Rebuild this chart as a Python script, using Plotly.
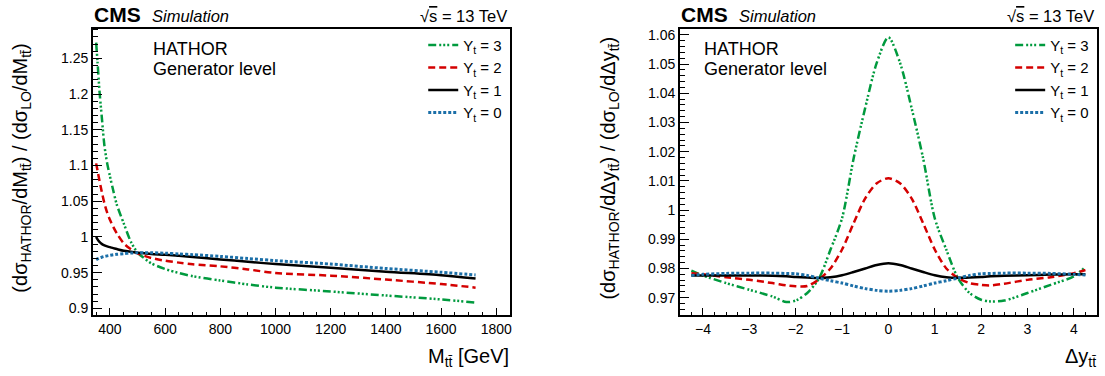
import plotly.graph_objects as go

W, H = 1105, 376

# ---------------- data: left panel (M_tt) ----------------
m_tt = [350, 355, 362, 370, 380, 390, 400, 412, 425, 450, 475, 500, 525, 550,
        600, 650, 700, 800, 900, 1000, 1200, 1400, 1600, 1725]
m_yt3 = [1.272, 1.245, 1.205, 1.170, 1.128, 1.103, 1.085, 1.065, 1.045, 1.019, 0.994, 0.978,
         0.970, 0.963, 0.955, 0.9495, 0.945, 0.939, 0.9335, 0.929, 0.9236, 0.918, 0.9125, 0.908]
m_yt2 = [1.103, 1.093, 1.079, 1.064, 1.047, 1.034, 1.024, 1.014, 1.005, 0.991, 0.983, 0.977,
         0.9735, 0.9705, 0.9667, 0.964, 0.9617, 0.9588, 0.9545, 0.9495, 0.9458, 0.9403, 0.934, 0.929]
m_yt1 = [1.000, 0.9965, 0.993, 0.9903, 0.9882, 0.9867, 0.9857, 0.9843, 0.983, 0.9806, 0.9792, 0.978,
         0.977, 0.976, 0.975, 0.9735, 0.972, 0.9685, 0.9652, 0.962, 0.9568, 0.9512, 0.9465, 0.9417]
m_yt0 = [0.968, 0.9692, 0.9705, 0.9716, 0.9727, 0.9735, 0.9742, 0.975, 0.9757, 0.9766, 0.9774, 0.9779,
         0.978, 0.978, 0.9772, 0.9762, 0.9752, 0.9727, 0.9698, 0.9668, 0.962, 0.9558, 0.9505, 0.9468]

# ---------------- data: right panel (Delta y_tt) ----------------
dy_tt = [-4.25, -4, -3.5, -3, -2.5, -2.2, -2, -1.75, -1.5, -1.25, -1, -0.75, -0.5, -0.25, 0,
         0.25, 0.5, 0.75, 1, 1.25, 1.5, 1.75, 2, 2.2, 2.5, 3, 3.5, 4, 4.25]
dy_yt3 = [0.9793, 0.9776, 0.975, 0.9727, 0.9704, 0.9685, 0.969, 0.9716, 0.9765, 0.9864, 0.9972,
          1.0177, 1.035, 1.0505, 1.0592, 1.0505, 1.035, 1.0177, 0.9972, 0.9864, 0.9767, 0.9716,
          0.9693, 0.9687, 0.969, 0.9716, 0.9744, 0.9773, 0.9805]
dy_yt2 = [0.9784, 0.978, 0.977, 0.9761, 0.975, 0.9742, 0.9739, 0.974, 0.9762, 0.980, 0.9865,
          0.9955, 1.004, 1.0092, 1.0109, 1.0092, 1.004, 0.9955, 0.9865, 0.980, 0.9768, 0.975,
          0.9744, 0.9742, 0.9748, 0.9761, 0.977, 0.9784, 0.9795]
dy_yt1 = [0.9776, 0.9776, 0.9776, 0.9776, 0.9775, 0.9773, 0.9771, 0.9769, 0.9767, 0.977, 0.9777,
          0.9788, 0.980, 0.9812, 0.9818, 0.9812, 0.980, 0.9788, 0.9777, 0.977, 0.9768, 0.9769,
          0.9771, 0.9773, 0.9775, 0.9777, 0.9779, 0.978, 0.978]
dy_yt0 = [0.9776, 0.978, 0.9783, 0.9784, 0.9784, 0.9783, 0.9782, 0.9776, 0.9767, 0.9758, 0.975,
          0.974, 0.9731, 0.9725, 0.9722, 0.9725, 0.9731, 0.974, 0.975, 0.9758, 0.9767, 0.9776,
          0.9782, 0.9783, 0.9784, 0.9784, 0.9783, 0.978, 0.9778]

series_names = ["Y<sub>t</sub> = 3", "Y<sub>t</sub> = 2", "Y<sub>t</sub> = 1", "Y<sub>t</sub> = 0"]

# tick labels
m_ticks = [400, 600, 800, 1000, 1200, 1400, 1600, 1800]
m_tick_text = ["400", "600", "800", "1000", "1200", "1400", "1600", "1800"]
m_yticks = [0.9, 0.95, 1.0, 1.05, 1.1, 1.15, 1.2, 1.25]
m_ytick_text = ["0.9", "0.95", "1", "1.05", "1.1", "1.15", "1.2", "1.25"]
dy_ticks = [-4, -3, -2, -1, 0, 1, 2, 3, 4]
dy_tick_text = ["\u22124", "\u22123", "\u22122", "\u22121", "0", "1", "2", "3", "4"]
dy_yticks = [0.97, 0.98, 0.99, 1.0, 1.01, 1.02, 1.03, 1.04, 1.05, 1.06]
dy_ytick_text = ["0.97", "0.98", "0.99", "1", "1.01", "1.02", "1.03", "1.04", "1.05", "1.06"]

# ---------------- styles ----------------
colors = ["#009a3e", "#d40000", "#000000", "#1b6fa8"]
dashes = ["8px,3px,2px,2px,2px,2px,2px,3px", "7px,4px", "solid", "3px,2px"]
widths = [2.5, 2.5, 2.5, 3]

FONT = "Liberation Sans, Arial, Helvetica, sans-serif"

fig = go.Figure()

for i, (ys, name) in enumerate(zip([m_yt3, m_yt2, m_yt1, m_yt0], series_names)):
    fig.add_trace(go.Scatter(x=m_tt, y=ys, name=name, mode="lines",
                             line=dict(color=colors[i], dash=dashes[i], width=widths[i],
                                       shape="spline", smoothing=0.8),
                             xaxis="x", yaxis="y", legend="legend"))
for i, (ys, name) in enumerate(zip([dy_yt3, dy_yt2, dy_yt1, dy_yt0], series_names)):
    fig.add_trace(go.Scatter(x=dy_tt, y=ys, name=name, mode="lines",
                             line=dict(color=colors[i], dash=dashes[i], width=widths[i],
                                       shape="spline", smoothing=0.8),
                             xaxis="x2", yaxis="y2", legend="legend2"))

def px_x(p):
    return p / W

def px_y(p):
    return 1 - p / H

ydom = [px_y(316), px_y(27)]
common_axis = dict(showgrid=False, zeroline=False, showline=True, mirror=True,
                   linecolor="black", linewidth=1.5, ticks="inside", tickcolor="black",
                   tickwidth=1, tickfont=dict(family=FONT, size=14, color="black"))

fig.update_layout(
    width=W, height=H,
    margin=dict(l=0, r=0, t=0, b=0),
    paper_bgcolor="white", plot_bgcolor="white",
    font=dict(family=FONT, color="black"),
    xaxis=dict(domain=[px_x(93), px_x(511)], range=[338, 1850], anchor="y",
               tickmode="array", tickvals=m_ticks, ticktext=m_tick_text, ticklen=8,
               minor=dict(tickmode="linear", tick0=0, dtick=50, ticklen=4, ticks="inside",
                          tickcolor="black"),
               **common_axis),
    yaxis=dict(domain=ydom, range=[0.89, 1.2915], anchor="x",
               tickmode="array", tickvals=m_yticks, ticktext=m_ytick_text, ticklen=9,
               minor=dict(tickmode="linear", tick0=0, dtick=0.01, ticklen=5, ticks="inside",
                          tickcolor="black"),
               **common_axis),
    xaxis2=dict(domain=[px_x(681), px_x(1099)], range=[-4.5, 4.5], anchor="y2",
                tickmode="array", tickvals=dy_ticks, ticktext=dy_tick_text, ticklen=8,
                minor=dict(tickmode="linear", tick0=0, dtick=0.25, ticklen=4, ticks="inside",
                           tickcolor="black"),
                **common_axis),
    yaxis2=dict(domain=ydom, range=[0.9639, 1.0621], anchor="x2",
                tickmode="array", tickvals=dy_yticks, ticktext=dy_ytick_text, ticklen=9,
                minor=dict(tickmode="linear", tick0=0, dtick=0.002, ticklen=5, ticks="inside",
                           tickcolor="black"),
                **common_axis),
    legend=dict(x=px_x(424), y=px_y(27), xanchor="left", yanchor="top",
                bgcolor="rgba(0,0,0,0)", borderwidth=0, itemwidth=30,
                font=dict(family=FONT, size=15, color="black"), tracegroupgap=0),
    legend2=dict(x=px_x(1012), y=px_y(27), xanchor="left", yanchor="top",
                 bgcolor="rgba(0,0,0,0)", borderwidth=0, itemwidth=30,
                 font=dict(family=FONT, size=15, color="black"), tracegroupgap=0),
    showlegend=True,
)

ann = []

def add_text(text, x, y, size, xanchor="left", yanchor="middle", angle=0, **kw):
    ann.append(dict(text=text, x=px_x(x), y=px_y(y), xref="paper", yref="paper",
                    xanchor=xanchor, yanchor=yanchor, showarrow=False, textangle=angle,
                    font=dict(family=FONT, size=size, color="black"), **kw))

for (left, right, hx) in [(93, 511, 152), (681, 1099, 704)]:
    add_text("<b>CMS</b>", left - 1, 13, 21)
    add_text("<i>Simulation</i>", left + 57, 14.5, 16.5)
    add_text("\u221a<span style='text-decoration:overline'>s</span> = 13 TeV", right - 1, 14.5, 16.5,
             xanchor="right")
    add_text("HATHOR", hx - 1, 47, 18)
    add_text("Generator level", hx - 1, 68, 18)

add_text("M<sub>t\u0074\u0304</sub> [GeV]", 512, 358, 20, xanchor="right")
add_text("\u0394y<sub>t\u0074\u0304</sub>", 1100, 358, 20, xanchor="right")
add_text("(d\u03c3<sub>HATHOR</sub>/dM<sub>t\u0074\u0304</sub>) / (d\u03c3<sub>LO</sub>/dM<sub>t\u0074\u0304</sub>)",
         22, 167, 20, xanchor="center", angle=-90)
add_text("(d\u03c3<sub>HATHOR</sub>/d\u0394y<sub>t\u0074\u0304</sub>) / (d\u03c3<sub>LO</sub>/d\u0394y<sub>t\u0074\u0304</sub>)",
         611, 167, 20, xanchor="center", angle=-90)

fig.update_layout(annotations=ann)

fig.write_html("out.html", config={"displayModeBar": False},
               post_script="document.body.style.margin='0';document.body.style.padding='0';")
